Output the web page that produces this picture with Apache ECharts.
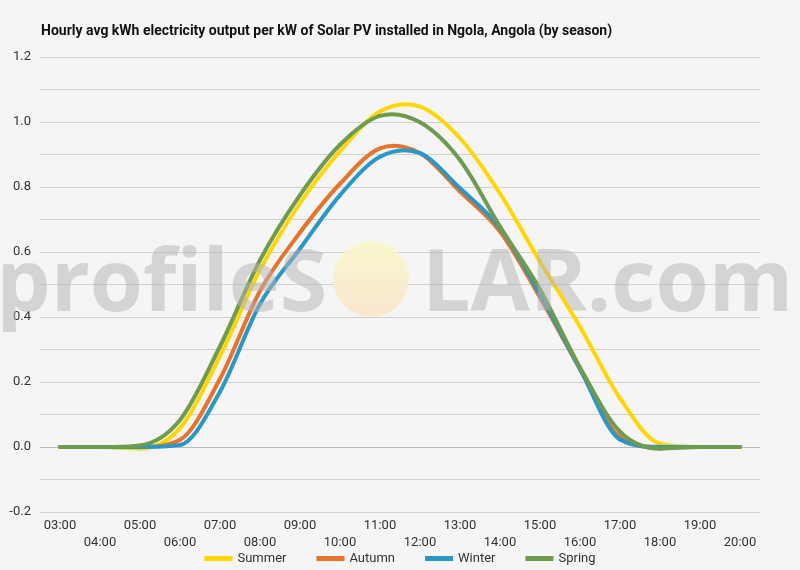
<!DOCTYPE html>
<html>
<head>
<meta charset="utf-8">
<script src="https://cdn.jsdelivr.net/npm/echarts@6/dist/echarts.min.js"></script>
<style>
  html, body { margin: 0; padding: 0; background: #f5f5f5; }
  #chart { width: 800px; height: 570px; }
</style>
</head>
<body>
<div id="chart"></div>
<script>
var hours = ['03:00', '04:00', '05:00', '06:00', '07:00', '08:00', '09:00', '10:00', '11:00',
    '12:00', '13:00', '14:00', '15:00', '16:00', '17:00', '18:00', '19:00', '20:00'];
var summer = [0, 0, -0.005, 0.058, 0.28, 0.545, 0.75, 0.91, 1.032, 1.047, 0.95, 0.78, 0.57, 0.37, 0.15, 0.01, 0, 0];
var autumn = [0, 0, 0, 0.022, 0.21, 0.48, 0.66, 0.81, 0.919, 0.904, 0.786, 0.663, 0.46, 0.24, 0.03, 0, 0, 0];
var winter = [0, 0, 0, 0.006, 0.17, 0.44, 0.61, 0.775, 0.893, 0.904, 0.796, 0.673, 0.47, 0.24, 0.023, 0, 0, 0];
var spring = [0, 0, 0.005, 0.083, 0.31, 0.575, 0.775, 0.93, 1.019, 0.999, 0.883, 0.678, 0.485, 0.245, 0.047, -0.005, 0, 0];

var chartDom = document.getElementById('chart');
var myChart = echarts.init(chartDom);

// catmull-rom tangents, with a monotone clamp near zero so the night parts stay flat
function tangents(values) {
    var n = values.length, d = [], m = [];
    for (var i = 0; i < n - 1; i++) d.push(values[i + 1] - values[i]);
    for (var j = 0; j < n; j++) {
        if (j === 0) { m.push(d[0]); continue; }
        if (j === n - 1) { m.push(d[n - 2]); continue; }
        var a = d[j - 1], b = d[j];
        var t = (a + b) / 2;
        if (values[j] < 0.1) {
            if (a * b <= 0) { m.push(0); continue; }
            var lim = 3 * Math.min(Math.abs(a), Math.abs(b));
            t = Math.sign(t) * Math.min(Math.abs(t), lim);
        }
        m.push(t);
    }
    return m;
}

function curve(name, values, color) {
    var m = tangents(values);
    return {
        name: name,
        type: 'custom',
        data: values.map(function (v, i) { return [i, v]; }),
        encode: { x: 0, y: 1 },
        itemStyle: { color: color },
        z: 3,
        renderItem: function (params, api) {
            var i = params.dataIndex;
            if (i >= values.length - 1) return;
            var p1 = api.coord([i, values[i]]);
            var p2 = api.coord([i + 1, values[i + 1]]);
            var q1 = api.coord([i, values[i] + m[i] / 3]);
            var q2 = api.coord([i, values[i + 1] - m[i + 1] / 3]);
            return {
                type: 'bezierCurve',
                shape: {
                    x1: p1[0], y1: p1[1],
                    x2: p2[0], y2: p2[1],
                    cpx1: p1[0] + (p2[0] - p1[0]) / 3, cpy1: q1[1],
                    cpx2: p1[0] + (p2[0] - p1[0]) * 2 / 3, cpy2: q2[1]
                },
                style: { stroke: color, lineWidth: 4, fill: 'none', lineCap: 'round' }
            };
        }
    };
}

var gridColors = [];
for (var g = 0; g < 15; g++) gridColors.push(g === 2 ? '#333' : '#d0d0d0');

var option = {
    backgroundColor: '#f5f5f5',
    textStyle: { fontFamily: 'Roboto' },
    title: {
        text: 'Hourly avg kWh electricity output per kW of Solar PV installed in Ngola, Angola (by season)',
        left: 36,
        top: 19,
        textStyle: { fontSize: 14, fontWeight: 'bold', color: '#111', fontFamily: 'Roboto' }
    },
    legend: {
        data: ['Summer', 'Autumn', 'Winter', 'Spring'],
        bottom: 0,
        left: 'center',
        icon: 'rect',
        itemWidth: 28,
        itemHeight: 5,
        itemGap: 30,
        textStyle: { fontSize: 13, color: '#333' }
    },
    grid: { left: 40, right: 40, top: 57, bottom: 58 },
    xAxis: {
        type: 'category',
        data: hours,
        boundaryGap: true,
        axisLine: { lineStyle: { color: '#bbb' } },
        axisTick: { show: false },
        axisLabel: {
            interval: 0,
            color: '#333',
            fontSize: 13,
            lineHeight: 17,
            margin: 5,
            formatter: function (v, i) { return i % 2 ? '\n' + v : v; }
        }
    },
    yAxis: {
        type: 'value',
        min: -0.2,
        max: 1.2,
        interval: 0.1,
        axisLine: { show: false },
        axisTick: { show: false },
        axisLabel: {
            color: '#333',
            fontSize: 13,
            margin: 9,
            formatter: function (v) {
                return Math.round(v * 10) % 2 === 0 ? v.toFixed(1) : '';
            }
        },
        // third split line is the 0.0 baseline, drawn dark
        splitLine: { lineStyle: { color: gridColors } }
    },
    graphic: [
        {
            type: 'text',
            right: 473,
            top: 243,
            z: 100,
            style: {
                text: 'profileS',
                font: 'bold 86px "Open Sans"',
                fill: 'rgba(180,180,180,0.5)'
            }
        },
        {
            type: 'circle',
            shape: { cx: 371, cy: 279, r: 38 },
            z: 99,
            style: {
                fill: new echarts.graphic.LinearGradient(0, 0, 0, 1, [
                    { offset: 0, color: 'rgba(250,248,200,0.85)' },
                    { offset: 1, color: 'rgba(250,228,200,0.85)' }
                ])
            }
        },
        {
            type: 'text',
            left: 422,
            top: 243,
            z: 100,
            style: {
                text: 'LAR.com',
                font: 'bold 86px "Open Sans"',
                fill: 'rgba(180,180,180,0.5)'
            }
        }
    ],
    series: [
        curve('Summer', summer, '#FFD600'),
        curve('Autumn', autumn, '#E8732A'),
        curve('Winter', winter, '#2A97C7'),
        curve('Spring', spring, '#6E9B4F')
    ]
};

myChart.setOption(option);
</script>
</body>
</html>
